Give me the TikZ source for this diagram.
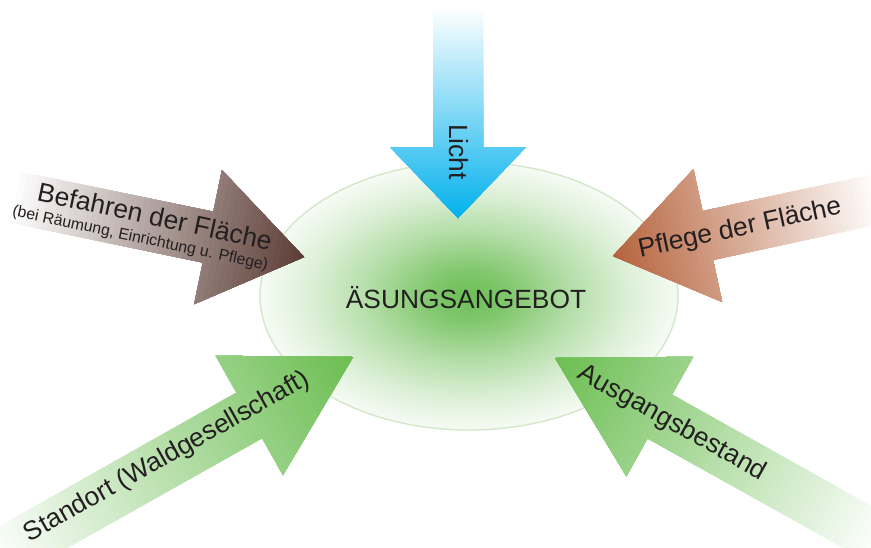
\documentclass[tikz,border=0pt]{standalone}
\usepackage{fontspec}
\setmainfont{Liberation Sans}
\usetikzlibrary{shapes.geometric}

\definecolor{textdark}{HTML}{231F20}
\definecolor{lichtblue}{HTML}{00B0EC}
\definecolor{fahrbrown}{HTML}{5A3A32}
\definecolor{pflegebrown}{HTML}{B5613A}
\definecolor{standgreen}{HTML}{6ABD50}
\definecolor{asunggreen}{HTML}{6CBE55}
\definecolor{asungrim}{HTML}{D2E8C8}

\pgfdeclareradialshading{asungshade}{\pgfpoint{0bp}{0bp}}{%
  color(0bp)=(asunggreen);
  color(5bp)=(asunggreen!85!white);
  color(12bp)=(asunggreen!52!white);
  color(19bp)=(asunggreen!24!white);
  color(25bp)=(asunggreen!6!white);
  color(50bp)=(asunggreen!6!white)}

\begin{document}
\begin{tikzpicture}[x=0.03cm, y=-0.03cm,
    lbl/.style={text=textdark, inner sep=0pt, font=\fontsize{22.5}{27}\selectfont},
    smalllbl/.style={text=textdark, inner sep=0pt, font=\fontsize{13.5}{16}\selectfont}]
    \useasboundingbox (0,0) rectangle (871,547);
    \clip (0,0) rectangle (871,547);

    % Aesungsangebot in the middle
    \node[ellipse, draw=asungrim, line width=1.2pt, shade, shading=asungshade,
        minimum width=12.54cm, minimum height=8.04cm, inner sep=0pt] (asung) at (469,296) {};

    % tips of the big arrows
    \coordinate (lichttip) at (458,218);
    \coordinate (fahrtip) at (304,257);
    \coordinate (pflegetip) at (613,256);
    \coordinate (standtip) at (353,357);
    \coordinate (ausgangtip) at (555,358);

    % tip / angle / head length / head half width / shaft half width / length / colour
    \foreach \tip/\ang/\hl/\hw/\sw/\len/\col in {lichttip/-90/71/68/25/212/lichtblue,
        fahrtip/-11.7/98/68.5/26/300/fahrbrown, pflegetip/192.2/97/68/25/275/pflegebrown,
        standtip/29.4/119/68.5/26/420/standgreen, ausgangtip/150.8/120/68.5/25/380/standgreen}
    {
        \begin{scope}[shift={(\tip)}, rotate=\ang]
            \clip (0,0) -- (-\hl,\hw) -- (-\hl,\sw) -- (-\len,\sw)
                -- (-\len,-\sw) -- (-\hl,-\sw) -- (-\hl,-\hw) -- cycle;
            % white tail, full colour at the tip
            \foreach \i in {0,...,50} {
                \pgfmathtruncatemacro\pct{2*\i}
                \fill[\col!\pct!white] ({-\len+\i/50*\len},-80) rectangle (2,80);
            }
        \end{scope}
    }

    % labels
    \node[lbl] (asungtext) at (466,298) {ÄSUNGSANGEBOT};
    \node[lbl, rotate=-90] (licht) at (459,152) {Licht};
    \node[lbl, rotate=-12, anchor=east] (befahren) at (272,241) {Befahren der Fläche};
    \node[smalllbl, rotate=-12, anchor=east] (befahrenzusatz) at (268,266)
        {(bei Räumung, Einrichtung u. Pflege)};
    \node[lbl, rotate=12.2] (pflege) at (740,229) {Pflege der Fläche};
    \node[lbl, rotate=29.4] (standort) at (167,457) {Standort (Waldgesellschaft)};
    \node[lbl, rotate=-29.2] (ausgang) at (672,423) {Ausgangsbestand};
\end{tikzpicture}
\end{document}
